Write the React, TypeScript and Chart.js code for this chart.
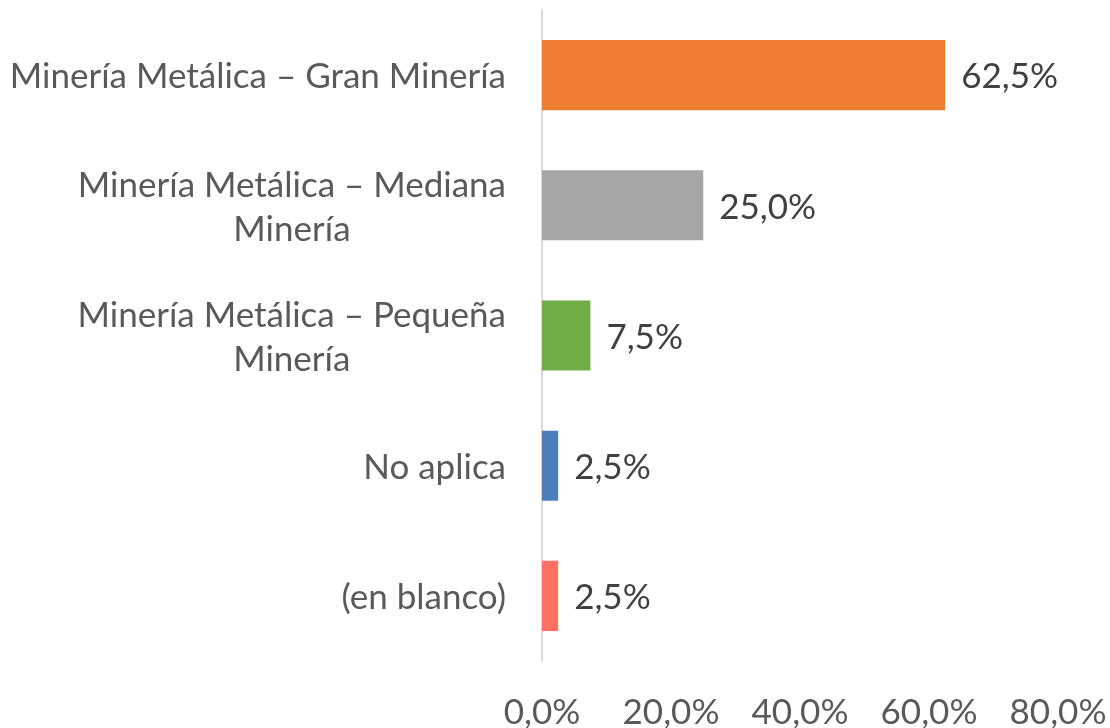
import React, { useEffect, useRef } from "react";
import { Chart, registerables } from "chart.js";

Chart.register(...registerables);

const categories: (string | string[])[] = [
  "Minería Metálica – Gran Minería",
  ["Minería Metálica – Mediana", "Minería"],
  ["Minería Metálica – Pequeña", "Minería"],
  "No aplica",
  "(en blanco)",
];
const values = [62.5, 25.0, 7.5, 2.5, 2.5];
const barColors = ["#ED7D31", "#A5A5A5", "#70AD47", "#4A7EBB", "#FF7161"];
const xTicks = [0, 20, 40, 60, 80];

const FONT = "Lato";
const FS = 35;

const fmt = (v: number) => v.toFixed(1).replace(".", ",") + "%";

const labelsPlugin = {
  id: "customLabels",
  afterDraw(chart: any) {
    const ctx = chart.ctx;
    const y = chart.scales.y;
    const x = chart.scales.x;
    const area = chart.chartArea;
    ctx.save();
    ctx.font = `${FS}px ${FONT}`;
    ctx.textBaseline = "middle";
    ctx.fillStyle = "#595959";
    categories.forEach((c, i) => {
      const lines = Array.isArray(c) ? c : [c];
      const yc = y.getPixelForValue(i);
      const widths = lines.map((l) => ctx.measureText(l).width);
      const bw = Math.max(...widths);
      const right = area.left - 36;
      const cx = right - bw / 2;
      const lh = 44;
      ctx.textAlign = "center";
      lines.forEach((l, j) => {
        ctx.fillText(l, cx, yc + (j - (lines.length - 1) / 2) * lh + 2);
      });
    });
    ctx.fillStyle = "#404040";
    ctx.textAlign = "left";
    values.forEach((v, i) => {
      const px = x.getPixelForValue(v) + 16;
      const py = y.getPixelForValue(i);
      ctx.fillText(fmt(v), px, py + 2);
    });
    ctx.restore();
  },
};

export default function App() {
  const ref = useRef<HTMLCanvasElement>(null);
  useEffect(() => {
    if (!ref.current) return;
    const chart = new Chart(ref.current, {
      type: "bar",
      data: {
        labels: categories as any,
        datasets: [
          {
            data: values,
            backgroundColor: barColors,
            borderWidth: 0,
            categoryPercentage: 1,
            barPercentage: 70 / 130,
          },
        ],
      },
      options: {
        indexAxis: "y",
        animation: false,
        responsive: false,
        maintainAspectRatio: false,
        layout: { padding: { top: 10, right: 0, left: 0, bottom: 0 } },
        plugins: { legend: { display: false }, tooltip: { enabled: false } },
        scales: {
          x: {
            min: 0,
            max: 80,
            afterBuildTicks: (s: any) => {
              s.ticks = xTicks.map((v) => ({ value: v }));
            },
            ticks: {
              callback: (v: any) => fmt(Number(v)),
              color: "#595959",
              font: { family: FONT, size: FS },
              padding: 23,
              maxRotation: 0,
            },
            grid: { display: false },
            border: { display: false },
            afterFit: (s: any) => {
              s.height = 67;
              s.paddingRight = 52;
              s.paddingLeft = 0;
            },
          },
          y: {
            ticks: { display: false },
            grid: { display: false },
            border: { display: true, color: "#D9D9D9", width: 2 },
            afterFit: (s: any) => {
              s.width = 542;
            },
          },
        },
      },
      plugins: [labelsPlugin],
    });
    return () => chart.destroy();
  }, []);
  return (
    <div style={{ position: "absolute", left: 0, top: 0, width: 1110, height: 728, background: "#fff" }}>
      <canvas ref={ref} width={1110} height={728} />
    </div>
  );
}
